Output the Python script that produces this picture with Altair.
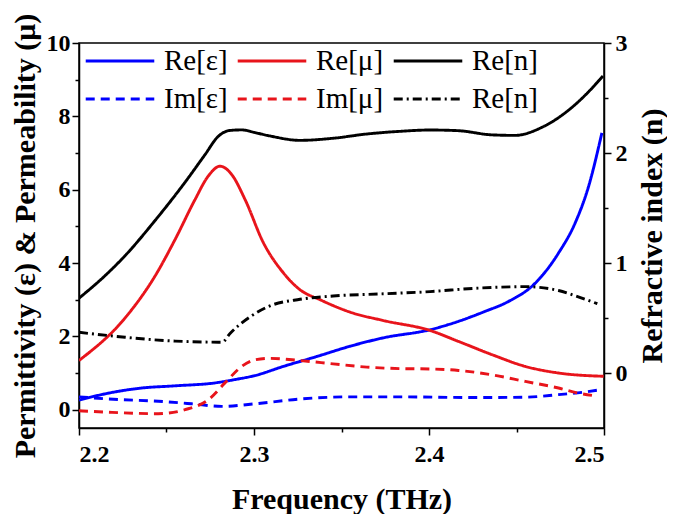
import altair as alt
import pandas as pd

# ---- data ----
f_re_eps = [2.2, 2.2168, 2.2358, 2.2549, 2.2777, 2.289, 2.3005, 2.3168, 2.3359, 2.3549, 2.374, 2.4006, 2.4169, 2.432, 2.4454, 2.4607, 2.474, 2.4835, 2.4912, 2.4988]
v_re_eps = [0.26, 0.45, 0.59, 0.65, 0.73, 0.82, 0.93, 1.18, 1.45, 1.73, 1.96, 2.18, 2.41, 2.68, 2.95, 3.45, 4.27, 5.09, 6.09, 7.55]

f_re_mu = [2.2, 2.2263, 2.2434, 2.2549, 2.2663, 2.2737, 2.2806, 2.2873, 2.2949, 2.3054, 2.3168, 2.3263, 2.3377, 2.3549, 2.374, 2.4006, 2.4169, 2.436, 2.455, 2.474, 2.4998]
v_re_mu = [1.34, 2.50, 3.64, 4.64, 5.73, 6.36, 6.64, 6.41, 5.73, 4.55, 3.73, 3.27, 3.0, 2.66, 2.43, 2.16, 1.86, 1.50, 1.18, 1.00, 0.91]

f_im_eps = [2.2, 2.2168, 2.2453, 2.2644, 2.2816, 2.3006, 2.3263, 2.3549, 2.3835, 2.4264, 2.455, 2.474, 2.4874, 2.4961]
v_im_eps = [0.35, 0.29, 0.23, 0.16, 0.09, 0.16, 0.29, 0.35, 0.35, 0.33, 0.34, 0.41, 0.47, 0.53]

f_im_mu = [2.2, 2.2166, 2.2452, 2.2606, 2.2739, 2.2834, 2.293, 2.3006, 2.3091, 2.3263, 2.3452, 2.3645, 2.3835, 2.4006, 2.4169, 2.436, 2.455, 2.474, 2.4835, 2.4961]
v_im_mu = [-0.03, -0.07, -0.11, 0.0, 0.27, 0.73, 1.18, 1.36, 1.40, 1.34, 1.25, 1.16, 1.12, 1.11, 1.07, 0.95, 0.77, 0.59, 0.47, 0.37]

f_re_n = [2.2, 2.2149, 2.2263, 2.2434, 2.2606, 2.272, 2.2795, 2.2863, 2.293, 2.3006, 2.3091, 2.3263, 2.3452, 2.3646, 2.3834, 2.4006, 2.4166, 2.4359, 2.4491, 2.4646, 2.4794, 2.4909, 2.4994]
v_re_n = [0.68, 0.885, 1.066, 1.385, 1.734, 1.985, 2.15, 2.205, 2.21, 2.185, 2.155, 2.115, 2.134, 2.173, 2.197, 2.209, 2.203, 2.165, 2.16, 2.234, 2.385, 2.552, 2.70]

f_im_n = [2.2, 2.2263, 2.2549, 2.2818, 2.2863, 2.2977, 2.3091, 2.3263, 2.3452, 2.374, 2.4006, 2.4264, 2.455, 2.474, 2.4857, 2.4962]
v_im_n = [0.37, 0.325, 0.29, 0.28, 0.36, 0.51, 0.61, 0.67, 0.70, 0.72, 0.74, 0.77, 0.785, 0.75, 0.69, 0.63]

series_names = ["Re[ε]", "Re[μ]", "Re[n]", "Im[ε]", "Im[μ]", "Im[n]"]
series_colors = ["#0000ff", "#e8141b", "#000000", "#0000ff", "#e8141b", "#000000"]
series_dash = [[1, 0], [1, 0], [1, 0], [9, 6], [9, 6], [9, 4, 2, 4]]
series_width = [2.9, 2.9, 2.9, 1.9, 1.9, 1.9]

x_ticks = [2.2, 2.25, 2.3, 2.35, 2.4, 2.45, 2.5]
left_ticks = list(range(0, 11))
right_ticks = [0, 0.5, 1, 1.5, 2, 2.5, 3]


def frame(name, fs, vs):
    return pd.DataFrame({"freq": fs, "value": vs, "series": name})


left_df = pd.concat([
    frame("Re[ε]", f_re_eps, v_re_eps),
    frame("Re[μ]", f_re_mu, v_re_mu),
    frame("Im[ε]", f_im_eps, v_im_eps),
    frame("Im[μ]", f_im_mu, v_im_mu),
])
right_df = pd.concat([
    frame("Re[n]", f_re_n, v_re_n),
    frame("Im[n]", f_im_n, v_im_n),
])

FONT = "Liberation Serif"

x_enc = alt.X(
    "freq:Q",
    scale=alt.Scale(domain=[2.2, 2.5], nice=False, zero=False),
    axis=alt.Axis(
        title="Frequency (THz)",
        values=x_ticks,
        format=".1f",
        labelExpr="abs(datum.value*10 - round(datum.value*10)) < 0.01 ? format(datum.value, '.1f') : ''",
        tickSize={"condition": {"test": "abs(datum.value*10 - round(datum.value*10)) < 0.01", "value": 7}, "value": 4},
        titlePadding=18,
        labelPadding=7,
    ),
)

color_enc = alt.Color(
    "series:N",
    scale=alt.Scale(domain=series_names, range=series_colors),
    legend=alt.Legend(
        title=None,
        orient="none",
        legendX=5,
        legendY=2,
        columns=3,
        direction="horizontal",
        symbolType="stroke",
        symbolSize=4700,
        symbolStrokeWidth=2.5,
        labelFont=FONT,
        labelFontSize=29,
        labelColor="black",
        labelOffset=8,
        columnPadding=8,
        rowPadding=6,
        clipHeight=32,
        labelExpr="datum.label == 'Im[n]' ? 'Re[n]' : datum.label",
    ),
)
dash_enc = alt.StrokeDash(
    "series:N",
    scale=alt.Scale(domain=series_names, range=series_dash),
    legend=None,
)
width_enc = alt.StrokeWidth(
    "series:N",
    scale=alt.Scale(domain=series_names, range=series_width),
    legend=None,
)

left = alt.Chart(left_df).mark_line(interpolate="monotone", clip=True).encode(
    x=x_enc,
    y=alt.Y(
        "value:Q",
        scale=alt.Scale(domain=[-0.5, 10], nice=False, zero=False),
        axis=alt.Axis(
            title="Permittivity (ε) & Permeability (μ)",
            values=left_ticks,
            labelExpr="datum.value % 2 == 0 ? datum.label : ''",
            tickSize={"condition": {"test": "datum.value % 2 == 0", "value": 7}, "value": 4},
            titlePadding=6,
            labelPadding=2,
        ),
    ),
    color=color_enc,
    strokeDash=dash_enc,
    strokeWidth=width_enc,
    detail="series:N",
)

right = alt.Chart(right_df).mark_line(interpolate="monotone", clip=True).encode(
    x=x_enc,
    y=alt.Y(
        "value:Q",
        scale=alt.Scale(domain=[-0.5, 3], nice=False, zero=False),
        axis=alt.Axis(
            title="Refractive index (n)",
            orient="right",
            values=right_ticks,
            labelExpr="datum.value % 1 == 0 ? format(datum.value, 'd') : ''",
            tickSize={"condition": {"test": "datum.value % 1 == 0", "value": 7}, "value": 4},
            titleAngle=270,
            titleBaseline="top",
            titlePadding=10,
            labelPadding=4,
        ),
    ),
    color=color_enc,
    strokeDash=dash_enc,
    strokeWidth=width_enc,
    detail="series:N",
)

chart = (
    alt.layer(left, right)
    .resolve_scale(y="independent")
    .properties(
        width=525,
        height=385,
        padding={"left": 2, "top": 5, "right": 0, "bottom": 0},
        background="white",
    )
    .configure_view(stroke="black", strokeWidth=1.5)
    .configure_axis(
        labelFont=FONT,
        labelFontSize=24,
        labelFontWeight="bold",
        labelColor="black",
        titleFont=FONT,
        titleFontSize=30,
        titleFontWeight="bold",
        titleColor="black",
        domainColor="black",
        domainWidth=1.5,
        tickColor="black",
        tickWidth=1.5,
        grid=False,
    )
)

chart.save("out.html", embed_options={"renderer": "svg", "actions": False})
